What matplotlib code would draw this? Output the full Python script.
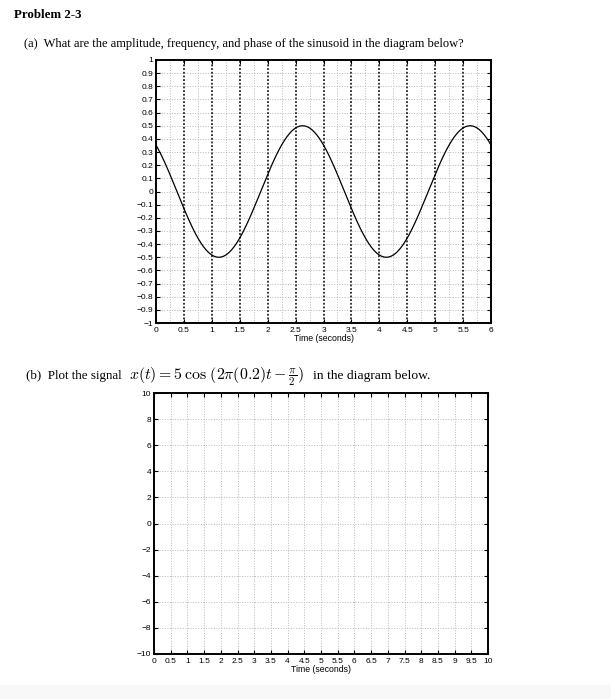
import numpy as np
import matplotlib
matplotlib.use("Agg")
import matplotlib.pyplot as plt
from matplotlib.patches import Rectangle

plt.rcParams['mathtext.fontset'] = 'cm'
plt.rcParams['font.family'] = ['Liberation Sans', 'DejaVu Sans']

amplitude = 0.5
frequency = 1 / 3.0      # Hz, peaks at 2.625 s and 5.625 s
phase = np.pi / 4        # rad
t_a = np.linspace(0, 6, 601)

xticks_a = np.arange(0, 6.01, 0.5)
yticks_a = np.round(np.arange(-1, 1.01, 0.1), 1)
xticks_b = np.arange(0, 10.01, 0.5)
yticks_b = np.arange(-10, 11, 2)


def fmt(v):
    s = ('%g' % v).replace('-', '\u2212')
    return '0' if s in ('\u22120',) else s


fig = plt.figure(figsize=(6.11, 6.99), dpi=100, facecolor='white')
fig.patches.append(Rectangle((0, 0), 1, 14 / 699, transform=fig.transFigure,
                             facecolor='#f8f8f8', edgecolor='none', zorder=-1))

serif = 'Liberation Serif'
fig.text(14 / 611, 1 - 18 / 699, 'Problem 2-3', family=serif,
         weight='bold', fontsize=9.3, va='baseline', ha='left')
fig.text(24 / 611, 1 - 47 / 699,
         '(a)  What are the amplitude, frequency, and phase of the sinusoid in the diagram below?',
         family=serif, fontsize=9.0, va='baseline', ha='left')
fig.text(26 / 611, 1 - 379 / 699, '(b)  Plot the signal',
         family=serif, fontsize=9.4, va='baseline', ha='left')
fig.text(129 / 611, 1 - 379 / 699,
         r'$x(t) = 5\,\cos\,(2\pi(0.2)t - \frac{\pi}{2})$',
         fontsize=11.4, va='baseline', ha='left')
fig.text(313 / 611, 1 - 379 / 699, 'in the diagram below.',
         family=serif, fontsize=9.7, va='baseline', ha='left')

# ---- part (a)
ax1 = fig.add_axes((156 / 611, 1 - 323 / 699, 335 / 611, 263 / 699))
ax1.set_xlim(0, 6)
ax1.set_ylim(-1, 1)
ax1.set_xticks(np.arange(0, 6.01, 0.25), minor=True)
ax1.grid(True, which='minor', axis='x', color='#b8b8b8', ls=':', lw=0.7)
for yv in yticks_a[1:-1]:
    ax1.axhline(yv, color='#b8b8b8', ls=':', lw=0.7, zorder=0)
for xv in xticks_a[1:-1]:
    ax1.axvline(xv, color='black', ls=(0, (1.2, 1.2)), lw=1.1, zorder=1)
ax1.plot(t_a, amplitude * np.cos(2 * np.pi * frequency * t_a + phase),
         color='black', lw=0.9, zorder=3)
ax1.set_xticks(xticks_a)
ax1.set_xticklabels([fmt(v) for v in xticks_a])
ax1.set_yticks(yticks_a)
ax1.set_yticklabels([fmt(v) for v in yticks_a])
ax1.tick_params(which='major', direction='in', top=True, right=True,
                length=3, width=0.8, labelsize=6, pad=2)
ax1.tick_params(axis='x', pad=3)
ax1.tick_params(which='minor', length=0)
ax1.set_xlabel('Time (seconds)', fontsize=6.3, labelpad=0)
for s in ax1.spines.values():
    s.set_linewidth(1.4)

# ---- part (b)
ax2 = fig.add_axes((154 / 611, 1 - 654 / 699, 334 / 611, 261 / 699))
ax2.set_xlim(0, 10)
ax2.set_ylim(-10, 10)
ax2.set_xticks(xticks_b)
ax2.set_xticklabels([fmt(v) for v in xticks_b])
ax2.set_yticks(yticks_b)
ax2.set_yticklabels([fmt(v) for v in yticks_b])
ax2.grid(True, color='#b8b8b8', ls=':', lw=0.7)
ax2.tick_params(direction='in', top=True, right=True,
                length=3, width=0.8, labelsize=6, pad=2)
ax2.tick_params(axis='x', pad=3)
ax2.set_xlabel('Time (seconds)', fontsize=6.3, labelpad=0)
for s in ax2.spines.values():
    s.set_linewidth(1.4)

fig.savefig('out.png', dpi=100, facecolor='white')
